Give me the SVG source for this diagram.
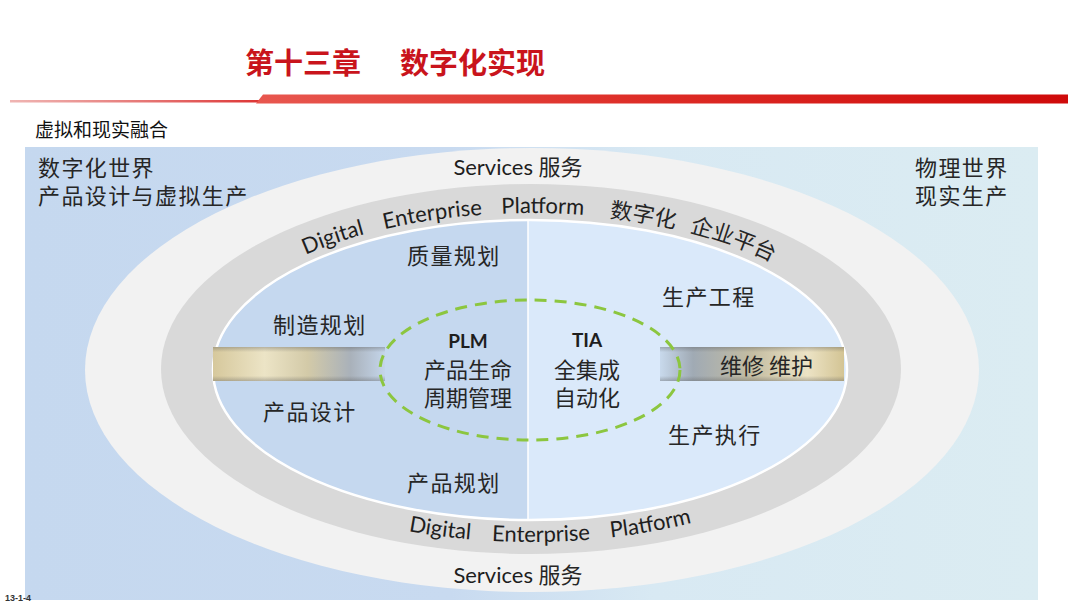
<svg xmlns="http://www.w3.org/2000/svg" width="1080" height="608" viewBox="0 0 1080 608">
<defs>
<style>
.cjk{font-family:"Noto Sans CJK SC","Noto Sans",sans-serif;fill:#262626;}
.lbl{font-size:22px;letter-spacing:1.4px;}
.lat{font-family:Lato,"Noto Sans CJK SC",sans-serif;fill:#1e1e1e;}
</style>
<linearGradient id="panel" x1="0" y1="0" x2="1" y2="0">
<stop offset="0" stop-color="#c5d8ef"/>
<stop offset="0.42" stop-color="#c8daf0"/>
<stop offset="0.62" stop-color="#d8e9f3"/>
<stop offset="1" stop-color="#dbecf2"/>
</linearGradient>
<linearGradient id="redbar" x1="0" y1="0" x2="1" y2="0">
<stop offset="0" stop-color="#e8574f"/>
<stop offset="0.5" stop-color="#dd2b25"/>
<stop offset="1" stop-color="#cf0a0a"/>
</linearGradient>
<linearGradient id="thin" x1="0" y1="0" x2="1" y2="0">
<stop offset="0" stop-color="#e06a66" stop-opacity="0.5"/>
<stop offset="1" stop-color="#d33"/>
</linearGradient>
<linearGradient id="barL" x1="0" y1="0" x2="1" y2="0">
<stop offset="0" stop-color="#d6c89c"/>
<stop offset="0.3" stop-color="#ece4c6"/>
<stop offset="0.55" stop-color="#d3caa8"/>
<stop offset="0.8" stop-color="#a9b1ba"/>
<stop offset="1" stop-color="#c4d5ea"/>
</linearGradient>
<linearGradient id="barR" x1="0" y1="0" x2="1" y2="0">
<stop offset="0" stop-color="#c8d9ec"/>
<stop offset="0.18" stop-color="#a0aab4"/>
<stop offset="0.5" stop-color="#c4bda2"/>
<stop offset="0.8" stop-color="#ece3c5"/>
<stop offset="1" stop-color="#d3c494"/>
</linearGradient>
<linearGradient id="shade" x1="0" y1="0" x2="0" y2="1">
<stop offset="0" stop-color="#555" stop-opacity="0.35"/>
<stop offset="0.15" stop-color="#555" stop-opacity="0"/>
<stop offset="0.85" stop-color="#555" stop-opacity="0"/>
<stop offset="1" stop-color="#555" stop-opacity="0.35"/>
</linearGradient>
<clipPath id="leftHalf"><rect x="0" y="0" width="528" height="608"/></clipPath>
<clipPath id="rightHalf"><rect x="528" y="0" width="552" height="608"/></clipPath>
<path id="arcTop" d="M 199 370 A 332 157 0 0 1 863 370" fill="none"/>
<path id="arcBot" d="M 181 370 A 350 172 0 0 0 881 370" fill="none"/>
</defs>

<rect width="1080" height="608" fill="#ffffff"/>

<g id="header">
<text x="245" y="74" font-family="'Noto Sans CJK SC',sans-serif" font-weight="bold" font-size="29" fill="#c9141c">第十三章</text>
<text x="400" y="74" font-family="'Noto Sans CJK SC',sans-serif" font-weight="bold" font-size="29" fill="#c9141c">数字化实现</text>
<rect x="10" y="100" width="252" height="2.5" fill="url(#thin)"/>
<polygon points="256,103.5 263,94.5 1068,94.5 1068,103.5" fill="url(#redbar)"/>
<text x="35" y="137" font-family="'Noto Sans CJK SC',sans-serif" font-size="19" fill="#111">虚拟和现实融合</text>
</g>

<g id="panel-bg">
<rect x="25" y="147" width="1013" height="453" fill="url(#panel)"/>
</g>

<g id="rings">
<ellipse cx="532" cy="370" rx="447" ry="222" fill="#f2f2f2"/>
<ellipse cx="531" cy="369" rx="370" ry="185" fill="#d9d9d9"/>
<ellipse cx="530" cy="370" rx="317" ry="150" fill="#c5d8ef" clip-path="url(#leftHalf)"/>
<ellipse cx="530" cy="370" rx="317" ry="150" fill="#dae9fa" clip-path="url(#rightHalf)"/>
<ellipse cx="530" cy="370" rx="317" ry="150" fill="none" stroke="#ffffff" stroke-width="2.5"/>
<line x1="528" y1="220" x2="528" y2="520" stroke="#ffffff" stroke-width="1.5"/>
</g>

<g id="world-labels">
<text x="38" y="176" class="cjk lbl">数字化世界</text>
<text x="38" y="204" class="cjk lbl">产品设计与虚拟生产</text>
<text x="915" y="176" class="cjk lbl">物理世界</text>
<text x="915" y="204" class="cjk lbl">现实生产</text>
</g>

<g id="services">
<text x="518" y="175" text-anchor="middle" class="lat" font-size="22">Services <tspan class="cjk" font-size="22">服务</tspan></text>
<text x="518" y="583" text-anchor="middle" class="lat" font-size="22">Services <tspan class="cjk" font-size="22">服务</tspan></text>
</g>

<g id="platform-top">
<text class="lat" font-size="22" text-anchor="middle"><textPath href="#arcTop" startOffset="197">Digital</textPath></text>
<text class="lat" font-size="22" text-anchor="middle"><textPath href="#arcTop" startOffset="298">Enterprise</textPath></text>
<text class="lat" font-size="22" text-anchor="middle"><textPath href="#arcTop" startOffset="408">Platform</textPath></text>
<text class="cjk" font-size="22" text-anchor="middle"><textPath href="#arcTop" startOffset="508">数字化</textPath></text>
<text class="cjk" font-size="22" text-anchor="middle"><textPath href="#arcTop" startOffset="600">企业平台</textPath></text>
</g>

<g id="platform-bottom">
<text class="lat" font-size="22" text-anchor="middle"><textPath href="#arcBot" startOffset="330">Digital</textPath></text>
<text class="lat" font-size="22" text-anchor="middle"><textPath href="#arcBot" startOffset="432">Enterprise</textPath></text>
<text class="lat" font-size="22" text-anchor="middle"><textPath href="#arcBot" startOffset="543">Platform</textPath></text>
</g>

<g id="bar-left">
<rect x="213" y="347" width="172" height="34" fill="url(#barL)"/>
<rect x="213" y="347" width="172" height="34" fill="url(#shade)"/>
</g>
<g id="bar-right">
<rect x="660" y="347" width="184" height="34" fill="url(#barR)"/>
<rect x="660" y="347" width="184" height="34" fill="url(#shade)"/>
<text x="720" y="374" class="cjk" font-size="22">维修 维护</text>
</g>

<g id="core">
<ellipse cx="530" cy="370" rx="150" ry="70" fill="none" stroke="#8cc63f" stroke-width="3" stroke-dasharray="12 8"/>
</g>

<g id="plm">
<text x="468" y="348" text-anchor="middle" class="lat" font-size="19" font-weight="bold">PLM</text>
<text x="468" y="378" text-anchor="middle" class="cjk" font-size="22">产品生命</text>
<text x="468" y="406" text-anchor="middle" class="cjk" font-size="22">周期管理</text>
</g>
<g id="tia">
<text x="587" y="347" text-anchor="middle" class="lat" font-size="19" font-weight="bold">TIA</text>
<text x="587" y="378" text-anchor="middle" class="cjk" font-size="22">全集成</text>
<text x="587" y="406" text-anchor="middle" class="cjk" font-size="22">自动化</text>
</g>

<g id="quality"><text x="407" y="264" class="cjk lbl">质量规划</text></g>
<g id="mfg"><text x="273" y="333" class="cjk lbl">制造规划</text></g>
<g id="design"><text x="263" y="420" class="cjk lbl">产品设计</text></g>
<g id="planning"><text x="407" y="491" class="cjk lbl">产品规划</text></g>
<g id="prodeng"><text x="662" y="305" class="cjk lbl">生产工程</text></g>
<g id="prodexec"><text x="668" y="443" class="cjk lbl">生产执行</text></g>

<g id="connectors"></g>

<text x="5" y="601" font-family="'Liberation Sans',sans-serif" font-weight="bold" font-size="9" fill="#333">13-1-4</text>
</svg>
